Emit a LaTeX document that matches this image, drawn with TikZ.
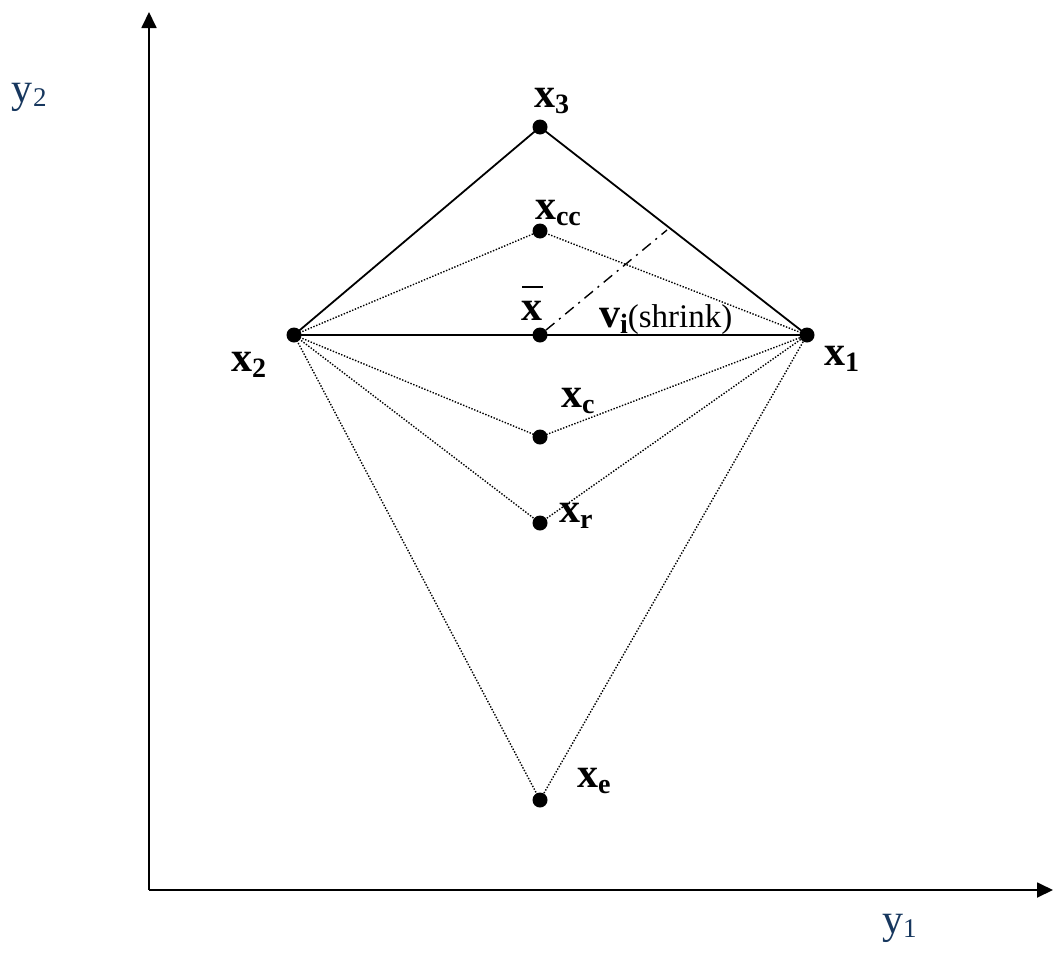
\documentclass[tikz,border=0pt]{standalone}
\usepackage{fontspec}
\setmainfont{Liberation Serif}
\usetikzlibrary{arrows.meta}
\definecolor{axisblue}{RGB}{23,55,94}
\newcommand\blab[2]{{\bfseries\fontsize{42}{46}\selectfont #1\raisebox{-6pt}{\fontsize{28}{30}\selectfont #2}}}
\newcommand\rlab[2]{{\fontsize{42}{46}\selectfont #1\raisebox{-4pt}{\fontsize{27}{30}\selectfont #2}}}
\newcommand\xbarlab{{\bfseries\fontsize{42}{46}\selectfont\rlap{\kern1pt\rule[32pt]{21pt}{2pt}}x}}
\tikzset{
  pt/.style={circle,fill=black,inner sep=0pt,minimum size=15pt},
  lab/.style={anchor=base west,inner sep=0pt,outer sep=0pt},
  solidline/.style={line width=1.8pt},
  dotline/.style={line width=1.4pt,dash pattern=on 1.4pt off 1.6pt},
  dashdotline/.style={line width=1.4pt,dash pattern=on 11pt off 6pt on 2pt off 6pt},
  axis/.style={line width=1.8pt,-{Triangle[width=15pt,length=16pt]}}
}
\begin{document}
\begin{tikzpicture}[x=1pt,y=-1pt]
\useasboundingbox (0,0) rectangle (1054,961);
% axes
\coordinate (O) at (149,890);
\coordinate (Ytop) at (149,12);
\coordinate (Xend) at (1053,890);
\draw[axis] (O) -- (Ytop);
\draw[axis] (O) -- (Xend);
% points
\node[pt] (x3) at (540,127) {};
\node[pt] (xcc) at (540,231) {};
\node[pt] (xbar) at (540,335) {};
\node[pt] (x2) at (294,335) {};
\node[pt] (x1) at (807,335) {};
\node[pt] (xc) at (540,437) {};
\node[pt] (xr) at (540,523) {};
\node[pt] (xe) at (540,800) {};
\coordinate (vend) at (667,230);
% solid lines
\draw[solidline] (x2.center) -- (x3.center) -- (x1.center);
\draw[solidline] (x2.center) -- (x1.center);
% dotted lines
\foreach \p in {xcc,xc,xr,xe}{
  \draw[dotline] (x2.center) -- (\p.center) -- (x1.center);
}
% dash-dot
\draw[dashdotline] (xbar) -- (vend);
% labels
\node[lab] (lx3) at (534,107) {\blab{x}{3}};
\node[lab] (lxcc) at (535,219) {\blab{x}{cc}};
\node[lab] (lxbar) at (521,320) {\xbarlab};
\node[lab] (lvi) at (599,327) {\blab{v}{i}{\fontsize{33}{36}\selectfont(shrink)}};
\node[lab] (lx2) at (231,371) {\blab{x}{2}};
\node[lab] (lx1) at (824,365) {\blab{x}{1}};
\node[lab] (lxc) at (561,407) {\blab{x}{c}};
\node[lab] (lxr) at (559,522) {\blab{x}{r}};
\node[lab] (lxe) at (577,787) {\blab{x}{e}};
\node[lab,text=axisblue] (ly2) at (12,102) {\rlab{y}{2}};
\node[lab,text=axisblue] (ly1) at (882,933) {\rlab{y}{1}};
\end{tikzpicture}
\end{document}
